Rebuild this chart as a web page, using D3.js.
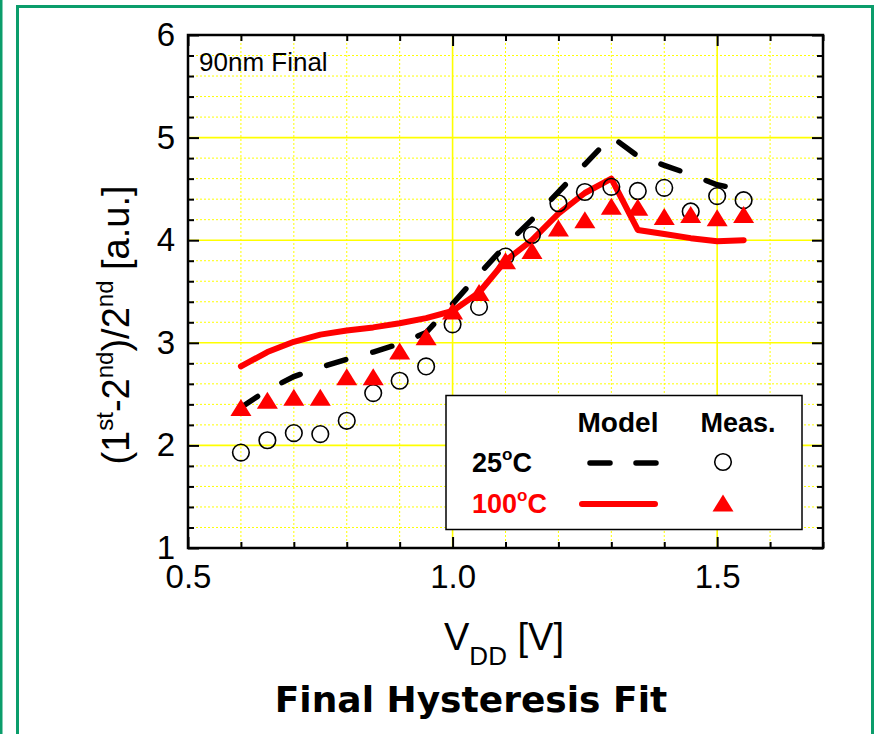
<!DOCTYPE html>
<html>
<head>
<meta charset="utf-8">
<script src="https://cdn.jsdelivr.net/npm/d3@7"></script>
<style>
  body { margin: 0; background: #fff; }
  svg { display: block; }
</style>
</head>
<body>
<div id="chart"></div>
<script>
  // DATA
  const vdd = [0.6, 0.65, 0.7, 0.75, 0.8, 0.85, 0.9, 0.95, 1.0, 1.05,
               1.1, 1.15, 1.2, 1.25, 1.3, 1.35, 1.4, 1.45, 1.5, 1.55];
  const meas25 = [1.93, 2.05, 2.12, 2.11, 2.24, 2.51, 2.63, 2.77, 3.18, 3.35,
                  3.84, 4.05, 4.36, 4.47, 4.52, 4.48, 4.51, 4.28, 4.43, 4.39];
  const meas100 = [2.37, 2.44, 2.47, 2.47, 2.67, 2.67, 2.92, 3.06, 3.31, 3.49,
                   3.80, 3.90, 4.12, 4.20, 4.33, 4.32, 4.23, 4.25, 4.22, 4.25];

  const model25V = [0.6, 0.65, 0.7, 0.75, 0.8, 0.85, 0.9, 0.95, 1.0, 1.05,
                    1.1, 1.15, 1.2, 1.25, 1.3, 1.35, 1.4, 1.45, 1.5, 1.52];
  const model25 = [2.37, 2.54, 2.67, 2.76, 2.84, 2.91, 2.99, 3.10, 3.38, 3.67,
                   3.95, 4.20, 4.47, 4.74, 5.01, 4.82, 4.73, 4.64, 4.54, 4.52];
  const model100V = [0.6, 0.65, 0.7, 0.75, 0.8, 0.85, 0.9, 0.95, 1.0, 1.05,
                     1.1, 1.15, 1.2, 1.25, 1.3, 1.35, 1.4, 1.45, 1.5, 1.55];
  const model100 = [2.77, 2.91, 3.01, 3.08, 3.12, 3.15, 3.19, 3.24, 3.31, 3.49,
                    3.80, 4.00, 4.26, 4.46, 4.60, 4.10, 4.06, 4.02, 3.99, 4.00];

  const xMajor = [0.5, 1.0, 1.5];
  const xMinor = [0.6, 0.7, 0.8, 0.9, 1.1, 1.2, 1.3, 1.4, 1.6, 1.7];
  const yMajor = [1, 2, 3, 4, 5, 6];
  const yMinor = [1.2, 1.4, 1.6, 1.8, 2.2, 2.4, 2.6, 2.8, 3.2, 3.4, 3.6, 3.8,
                  4.2, 4.4, 4.6, 4.8, 5.2, 5.4, 5.6, 5.8];

  const W = 875, H = 734;
  const PLOT = { left: 188, right: 823, top: 35, bottom: 548 };
  const SANS = "'Liberation Sans', Arial, Helvetica, sans-serif";
  const GREEN = "#0b9d6b";
  const RED = "#ff0000";

  const svg = d3.select("#chart")
    .append("svg")
    .attr("width", W)
    .attr("height", H)

  // GREEN PAGE FRAME
  svg.append("rect")
    .attr("x", 0).attr("y", 0)
    .attr("width", 2.5).attr("height", H)
    .attr("fill", GREEN)
  svg.append("rect")
    .attr("x", 17.5).attr("y", 6.5)
    .attr("width", 855).attr("height", H + 20)
    .attr("fill", "none")
    .attr("stroke", GREEN)
    .attr("stroke-width", 3)

  const x = d3.scaleLinear().domain([0.5, 1.7]).range([PLOT.left, PLOT.right]);
  const y = d3.scaleLinear().domain([1, 6]).range([PLOT.bottom, PLOT.top]);

  // GRID
  const grid = svg.append("g");
  grid.selectAll(".vgrid")
    .data(xMajor.concat(xMinor).filter(d => d > 0.5 && d < 1.7))
    .join("line")
    .attr("x1", d => x(d)).attr("x2", d => x(d))
    .attr("y1", PLOT.top).attr("y2", PLOT.bottom)
    .attr("stroke", "#ffff00")
    .attr("stroke-width", d => xMajor.includes(d) ? 1.6 : 1)
    .attr("stroke-dasharray", d => xMajor.includes(d) ? null : "2,2")
  grid.selectAll(".hgrid")
    .data(yMajor.concat(yMinor).filter(d => d > 1 && d < 6))
    .join("line")
    .attr("x1", PLOT.left).attr("x2", PLOT.right)
    .attr("y1", d => y(d)).attr("y2", d => y(d))
    .attr("stroke", "#ffff00")
    .attr("stroke-width", d => yMajor.includes(d) ? 1.6 : 1)
    .attr("stroke-dasharray", d => yMajor.includes(d) ? null : "2,2")

  // AXES (ticks point inward on all four sides)
  const MAJ = 11, MIN = 6;
  const noDomain = g => g.select(".domain").remove();

  svg.append("g")
    .attr("transform", `translate(0,${PLOT.bottom})`)
    .call(d3.axisBottom(x).tickValues(xMajor).tickSizeInner(-MAJ).tickSizeOuter(0).tickFormat(d3.format(".1f")))
    .call(noDomain)
    .call(g => g.selectAll("text").attr("y", 40).attr("dy", null)
      .style("font-family", SANS).style("font-size", "33px").attr("fill", "#000"))
  svg.append("g")
    .attr("transform", `translate(0,${PLOT.bottom})`)
    .call(d3.axisBottom(x).tickValues(xMinor).tickSizeInner(-MIN).tickSizeOuter(0).tickFormat(""))
    .call(noDomain)
  svg.append("g")
    .attr("transform", `translate(0,${PLOT.top})`)
    .call(d3.axisTop(x).tickValues(xMajor).tickSizeInner(-MAJ).tickSizeOuter(0).tickFormat(""))
    .call(noDomain)
  svg.append("g")
    .attr("transform", `translate(0,${PLOT.top})`)
    .call(d3.axisTop(x).tickValues(xMinor).tickSizeInner(-MIN).tickSizeOuter(0).tickFormat(""))
    .call(noDomain)

  svg.append("g")
    .attr("transform", `translate(${PLOT.left},0)`)
    .call(d3.axisLeft(y).tickValues(yMajor).tickSizeInner(-MAJ).tickSizeOuter(0).tickPadding(13).tickFormat(d3.format("d")))
    .call(noDomain)
    .call(g => g.selectAll("text")
      .style("font-family", SANS).style("font-size", "33px").attr("fill", "#000"))
  svg.append("g")
    .attr("transform", `translate(${PLOT.left},0)`)
    .call(d3.axisLeft(y).tickValues(yMinor).tickSizeInner(-MIN).tickSizeOuter(0).tickFormat(""))
    .call(noDomain)
  svg.append("g")
    .attr("transform", `translate(${PLOT.right},0)`)
    .call(d3.axisRight(y).tickValues(yMajor).tickSizeInner(-MAJ).tickSizeOuter(0).tickFormat(""))
    .call(noDomain)
  svg.append("g")
    .attr("transform", `translate(${PLOT.right},0)`)
    .call(d3.axisRight(y).tickValues(yMinor).tickSizeInner(-MIN).tickSizeOuter(0).tickFormat(""))
    .call(noDomain)

  svg.selectAll(".tick line").attr("stroke", "#000").attr("stroke-width", 2)

  // PLOT FRAME
  svg.append("rect")
    .attr("x", PLOT.left).attr("y", PLOT.top)
    .attr("width", PLOT.right - PLOT.left)
    .attr("height", PLOT.bottom - PLOT.top)
    .attr("fill", "none")
    .attr("stroke", "#000")
    .attr("stroke-width", 2.5)

  // 90nm LABEL
  svg.append("text")
    .attr("x", 199).attr("y", 71)
    .text("90nm Final")
    .style("font-family", SANS)
    .style("font-size", "26px")
    .attr("fill", "#000")

  // MODEL LINES
  const line = d3.line().x(d => x(d[0])).y(d => y(d[1]));

  svg.append("path")
    .datum(model25V.map((v, i) => [v, model25[i]]))
    .attr("d", line)
    .attr("fill", "none")
    .attr("stroke", "#000")
    .attr("stroke-width", 5.5)
    .attr("stroke-linecap", "round")
    .attr("stroke-dasharray", "20,28")

  svg.append("path")
    .datum(model100V.map((v, i) => [v, model100[i]]))
    .attr("d", line)
    .attr("fill", "none")
    .attr("stroke", RED)
    .attr("stroke-width", 6)
    .attr("stroke-linejoin", "round")
    .attr("stroke-linecap", "round")

  // MEASURED POINTS
  const TRI_W = 21, TRI_H = 17;
  const triangle = `M0,${-TRI_H / 2}L${TRI_W / 2},${TRI_H / 2}L${-TRI_W / 2},${TRI_H / 2}Z`;

  svg.append("g").selectAll("circle")
    .data(vdd.map((v, i) => [v, meas25[i]]))
    .join("circle")
    .attr("cx", d => x(d[0]))
    .attr("cy", d => y(d[1]))
    .attr("r", 8.3)
    .attr("fill", "none")
    .attr("stroke", "#000")
    .attr("stroke-width", 1.6)

  svg.append("g").selectAll("path")
    .data(vdd.map((v, i) => [v, meas100[i]]))
    .join("path")
    .attr("d", triangle)
    .attr("transform", d => `translate(${x(d[0])},${y(d[1])})`)
    .attr("fill", RED)

  // LEGEND
  const legend = svg.append("g");
  legend.append("rect")
    .attr("x", 446).attr("y", 395.5)
    .attr("width", 356).attr("height", 134)
    .attr("fill", "#fff")
    .attr("stroke", "#000")
    .attr("stroke-width", 1.5)

  legend.append("text")
    .attr("x", 618).attr("y", 432)
    .attr("text-anchor", "middle")
    .text("Model")
    .style("font-family", SANS).style("font-size", "28px").style("font-weight", "bold")
  legend.append("text")
    .attr("x", 738).attr("y", 432)
    .attr("text-anchor", "middle")
    .text("Meas.")
    .style("font-family", SANS).style("font-size", "27px").style("font-weight", "bold")

  const tempLabel = (yy, num, colour) => {
    const t = legend.append("text")
      .attr("x", 472).attr("y", yy)
      .attr("fill", colour)
      .style("font-family", SANS).style("font-size", "27px").style("font-weight", "bold")
    t.append("tspan").text(num)
    t.append("tspan").attr("dy", -12).style("font-size", "17px").text("o")
    t.append("tspan").attr("dy", 12).text("C")
  }
  tempLabel(472, "25", "#000");
  tempLabel(513, "100", RED);

  legend.append("line")
    .attr("x1", 590).attr("x2", 656)
    .attr("y1", 463).attr("y2", 463)
    .attr("stroke", "#000")
    .attr("stroke-width", 5.5)
    .attr("stroke-linecap", "round")
    .attr("stroke-dasharray", "20,26")
  legend.append("circle")
    .attr("cx", 723).attr("cy", 462)
    .attr("r", 8.3)
    .attr("fill", "none")
    .attr("stroke", "#000")
    .attr("stroke-width", 1.6)
  legend.append("line")
    .attr("x1", 582).attr("x2", 655)
    .attr("y1", 504).attr("y2", 504)
    .attr("stroke", RED)
    .attr("stroke-width", 6)
    .attr("stroke-linecap", "round")
  legend.append("path")
    .attr("d", triangle)
    .attr("transform", "translate(723,503)")
    .attr("fill", RED)

  // Y AXIS LABEL
  const yLab = svg.append("text")
    .attr("transform", "translate(129,325) rotate(-90)")
    .attr("text-anchor", "middle")
    .style("font-family", SANS)
    .style("font-size", "38px")
    .attr("fill", "#000")
  yLab.append("tspan").text("(1")
  yLab.append("tspan").attr("dy", -16).style("font-size", "24px").text("st")
  yLab.append("tspan").attr("dy", 16).text("-2")
  yLab.append("tspan").attr("dy", -16).style("font-size", "24px").text("nd")
  yLab.append("tspan").attr("dy", 16).text(")/2")
  yLab.append("tspan").attr("dy", -16).style("font-size", "24px").text("nd")
  yLab.append("tspan").attr("dy", 16).text(" [a.u.]")

  // X AXIS LABEL
  const xLab = svg.append("text")
    .attr("x", 444).attr("y", 650)
    .style("font-family", SANS)
    .style("font-size", "38px")
    .attr("fill", "#000")
  xLab.append("tspan").text("V")
  xLab.append("tspan").attr("dy", 15).style("font-size", "26px").text("DD")
  xLab.append("tspan").attr("dy", -15).text(" [V]")

  // TITLE
  svg.append("text")
    .attr("x", 471).attr("y", 712)
    .attr("text-anchor", "middle")
    .text("Final Hysteresis Fit")
    .style("font-family", "'DejaVu Sans', Verdana, sans-serif")
    .style("font-size", "36px")
    .style("font-weight", "bold")
    .attr("fill", "#000")
</script>
</body>
</html>
